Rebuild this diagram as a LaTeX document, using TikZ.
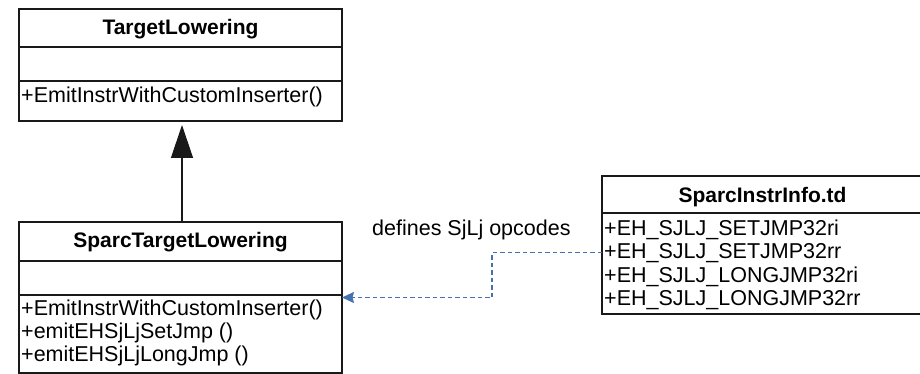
\documentclass[tikz,border=0pt]{standalone}
\usepackage{fontspec}
\setmainfont{Liberation Sans}
\usetikzlibrary{arrows.meta}
\definecolor{depblue}{RGB}{68,114,176}
\definecolor{umlline}{RGB}{25,25,25}
\begin{document}
\begin{tikzpicture}[x=1pt,y=-1pt,
  classbox/.style={draw=umlline, line width=1.3pt, anchor=north west, inner sep=0pt, outer sep=0pt},
  openbox/.style={anchor=north west, inner sep=0pt, outer sep=0pt},
  classtitle/.style={font=\fontsize{21}{24}\selectfont\bfseries, anchor=base, inner sep=0pt},
  member/.style={font=\fontsize{21.5}{24}\selectfont, anchor=base west, inner sep=0pt},
  partline/.style={draw=umlline, line width=1.3pt},
  inherit/.style={draw=umlline, line width=1.3pt, -{Triangle[length=33pt,width=22pt]}, shorten >=4pt},
  dep/.style={draw=depblue, line width=1.5pt, dash pattern=on 4.5pt off 3pt, -{Stealth[length=12pt,width=11pt,inset=1.5pt]}},
  deplabel/.style={font=\fontsize{21.5}{24}\selectfont, anchor=base west, inner sep=0pt}
]
\useasboundingbox (0,0) rectangle (920,374);

% TargetLowering
\node[classbox, minimum width=323pt, minimum height=112pt] (tl) at (19,9) {};
\draw[partline] (19,47) -- (342,47);
\draw[partline] (19,81) -- (342,81);
\node[classtitle] (tlname) at (180.5,35) {TargetLowering};
\node[member] (tlm1) at (21,103) {+EmitInstrWithCustomInserter()};

% SparcTargetLowering
\node[classbox, minimum width=323pt, minimum height=151pt] (stl) at (19,222) {};
\draw[partline] (19,261) -- (342,261);
\draw[partline] (19,295) -- (342,295);
\node[classtitle] (stlname) at (180.5,247) {SparcTargetLowering};
\node[member] (stlm1) at (21,315) {+EmitInstrWithCustomInserter()};
\node[member] (stlm2) at (21,338.3) {+emitEHSjLjSetJmp ()};
\node[member] (stlm3) at (21,361.7) {+emitEHSjLjLongJmp ()};

% SparcInstrInfo.td: its right side lies past the page edge, so only
% the top, left and bottom sides are drawn
\node[openbox, minimum width=330pt, minimum height=138pt] (sii) at (602,176) {};
\draw[partline] (920,176) -- (602,176) -- (602,314) -- (920,314);
\draw[partline] (602,213) -- (920,213);
\node[classtitle] (siiname) at (762.5,202) {SparcInstrInfo.td};
\node[member] (siim1) at (604,235) {+EH\_SJLJ\_SETJMP32ri};
\node[member] (siim2) at (604,258.5) {+EH\_SJLJ\_SETJMP32rr};
\node[member] (siim3) at (604,282) {+EH\_SJLJ\_LONGJMP32ri};
\node[member] (siim4) at (604,305.5) {+EH\_SJLJ\_LONGJMP32rr};

% generalization
\draw[inherit] ([xshift=1.5pt]stl.north) -- ([xshift=1.5pt]tl.south);

% dependency
\draw[dep] ([yshift=-7.5pt]sii.west) -- ++(-110,0) |- (stl.east);
\node[deplabel] (deptext) at (372,235) {defines SjLj opcodes};
\end{tikzpicture}
\end{document}
